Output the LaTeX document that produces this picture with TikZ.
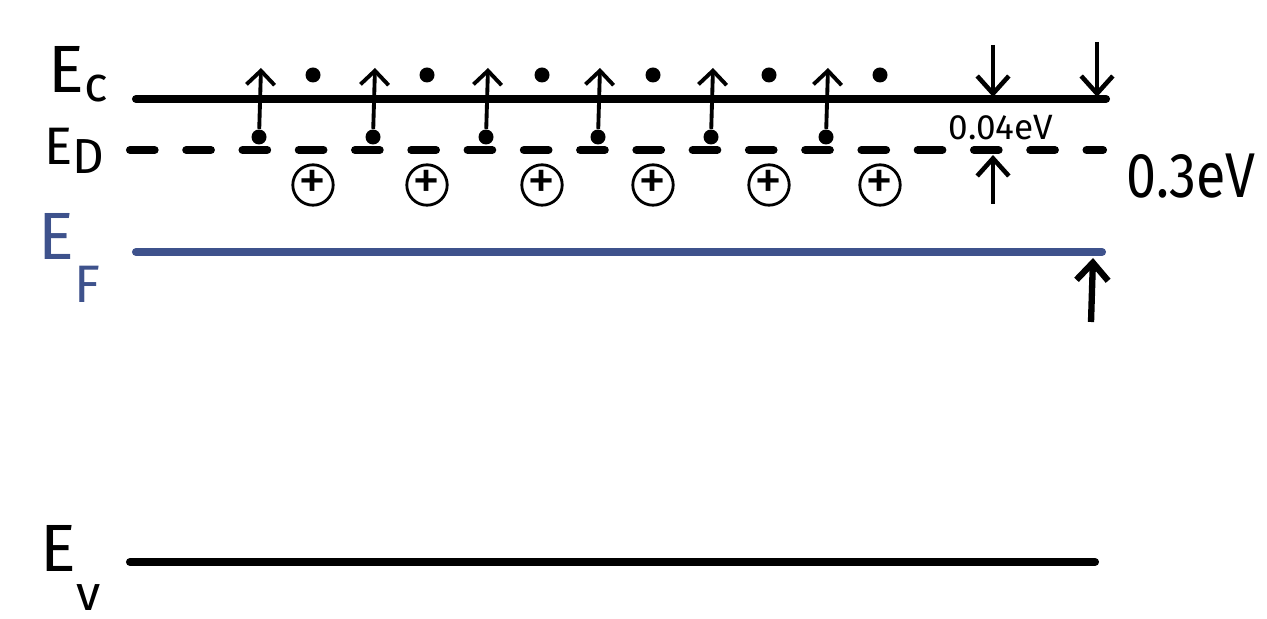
\documentclass[tikz,border=0pt]{standalone}
\usepackage{fontspec}
\setmainfont{Fira Sans}
\usetikzlibrary{arrows.meta}
\definecolor{fermiColor}{RGB}{62,82,140}
\tikzstyle{bandLine} = [line width=2.3pt, line cap=round]
\tikzstyle{donorLine} = [bandLine, dash pattern=on 7pt off 9pt]
\tikzstyle{fermiLine} = [bandLine, color=fermiColor]
\tikzstyle{electronDot} = [circle, fill=black, inner sep=0pt, minimum size=0.15cm]
\tikzstyle{ionStyle} = [circle, draw, thick, inner sep=0pt, minimum size=0.36cm, font=\fontsize{16}{16}\selectfont]
\tikzstyle{jumpArrow} = [line width=1.1pt, -{Straight Barb[length=4pt, width=8pt]}]
\tikzstyle{gapArrow} = [line width=1.3pt, -{Straight Barb[length=5pt, width=9pt]}]
\tikzstyle{levelLabel} = [anchor=west, inner sep=0pt, font=\fontsize{19}{19}\selectfont]
\newcommand{\donorSite}[2]{
  \node [electronDot] (donorE#1) at (#2, 137) {};
  \coordinate (jumpTop#1) at (#2 + 2, 68);
  \draw [jumpArrow] (donorE#1) -- (jumpTop#1);
}
\begin{document}
\begin{tikzpicture}[x=0.01cm, y=-0.01cm]
  \useasboundingbox (0,0) rectangle (1267,619);
  % levels
  \coordinate (ecL) at (136,99);
  \coordinate (ecR) at (1106,99);
  \coordinate (edL) at (130,150);
  \coordinate (edR) at (1103,150);
  \coordinate (efL) at (136,252);
  \coordinate (efR) at (1102,252);
  \coordinate (evL) at (130,562);
  \coordinate (evR) at (1095,562);
  \draw [bandLine] (ecL) -- (ecR);
  \draw [donorLine] (edL) -- (edR);
  \draw [fermiLine] (efL) -- (efR);
  \draw [bandLine] (evL) -- (evR);
  \node [levelLabel] (ecLabel) at (48,74) {E\raisebox{-0.25ex}{\fontsize{14}{14}\selectfont c}};
  \node [levelLabel, font=\fontsize{15}{15}\selectfont] (edLabel) at (44,151) {E\raisebox{-0.3ex}{\fontsize{14}{14}\selectfont D}};
  \node [levelLabel, color=fermiColor] (efLabel) at (38,258) {E\raisebox{-1.2ex}{\fontsize{15}{15}\selectfont F}};
  \node [levelLabel] (evLabel) at (40,568) {E\raisebox{-1.1ex}{\fontsize{14}{14}\selectfont v}};
  % donors, free electrons, ions
  \foreach \ex/\fx [count=\k] in {259/313, 373/427, 486/542, 598/653, 711/769, 826/880} {
    \donorSite{\k}{\ex}
    \node [electronDot] (freeE\k) at (\fx, 75) {};
    \node [ionStyle] (ion\k) at (\fx, 185) {+};
  }
  % energy gaps
  \coordinate (gapTopA) at (993,45);
  \coordinate (gapEcA) at (993,97);
  \coordinate (gapBotA) at (993,204);
  \coordinate (gapEdA) at (993,155);
  \coordinate (gapTopB) at (1097,42);
  \coordinate (gapEcB) at (1097,97);
  \coordinate (gapBotB) at (1091,322);
  \coordinate (gapEfB) at (1093,258);
  \draw [gapArrow] (gapTopA) -- (gapEcA);
  \draw [gapArrow] (gapBotA) -- (gapEdA);
  \draw [gapArrow] (gapTopB) -- (gapEcB);
  \draw [gapArrow, line width=1.8pt] (gapBotB) -- (gapEfB);
  \node [font=\fontsize{10}{10}\selectfont] (smallGap) at (1001,128) {0.04eV};
  \node [font=\fontsize{18}{18}\selectfont, anchor=west, xscale=0.85] (bigGap) at (1116,176) {0.3eV};
\end{tikzpicture}
\end{document}
